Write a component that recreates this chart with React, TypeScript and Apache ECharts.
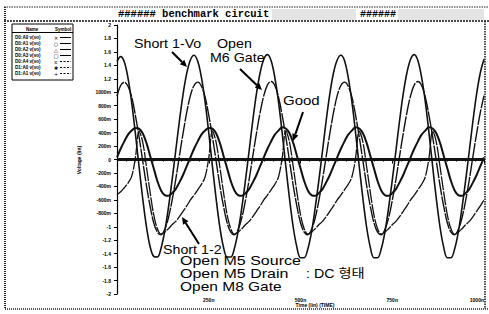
import React, { useEffect, useRef } from "react";
import * as echarts from "echarts";

// time grid (ns)
const TIME_NS = Array.from({ length: 101 }, (_, i) => i * 10);

// Short 1-Vo
const SHORT_1_VO = [
  1.46, 1.53, 1.45, 1.21, 0.85, 0.39, -0.10, -0.58, -0.99, -1.29, -1.44, -1.45, -1.32, -1.07, -0.72, -0.31, 0.13, 0.57, 0.97, 1.28,
  1.48, 1.55, 1.46, 1.22, 0.86, 0.40, -0.10, -0.58, -1.00, -1.30, -1.45, -1.45, -1.32, -1.07, -0.72, -0.31, 0.13, 0.58, 0.98, 1.29,
  1.49, 1.56, 1.47, 1.22, 0.86, 0.40, -0.10, -0.58, -1.00, -1.30, -1.46, -1.46, -1.33, -1.08, -0.72, -0.31, 0.13, 0.58, 0.98, 1.29,
  1.48, 1.55, 1.47, 1.22, 0.86, 0.40, -0.10, -0.58, -1.00, -1.30, -1.46, -1.46, -1.33, -1.08, -0.72, -0.31, 0.13, 0.58, 0.98, 1.29,
  1.49, 1.56, 1.47, 1.22, 0.86, 0.40, -0.10, -0.58, -1.00, -1.30, -1.46, -1.46, -1.33, -1.08, -0.72, -0.31, 0.13, 0.58, 0.98, 1.29,
  1.49,
];

// Open M6 Gate
const OPEN_M6_GATE = [
  0.94, 1.10, 1.15, 1.09, 0.93, 0.66, 0.34, -0.02, -0.38, -0.69, -0.94, -1.08, -1.12, -1.04, -0.87, -0.61, -0.30, 0.05, 0.39, 0.70,
  0.95, 1.10, 1.15, 1.09, 0.93, 0.66, 0.34, -0.02, -0.38, -0.69, -0.94, -1.08, -1.12, -1.04, -0.87, -0.61, -0.30, 0.05, 0.39, 0.70,
  0.95, 1.11, 1.16, 1.10, 0.93, 0.66, 0.34, -0.02, -0.38, -0.69, -0.94, -1.08, -1.12, -1.04, -0.87, -0.61, -0.30, 0.05, 0.39, 0.70,
  0.95, 1.10, 1.15, 1.09, 0.93, 0.66, 0.34, -0.02, -0.38, -0.69, -0.94, -1.08, -1.12, -1.04, -0.87, -0.61, -0.30, 0.05, 0.39, 0.70,
  0.95, 1.11, 1.16, 1.10, 0.93, 0.66, 0.34, -0.02, -0.38, -0.69, -0.94, -1.08, -1.12, -1.04, -0.87, -0.61, -0.30, 0.05, 0.39, 0.70,
  0.95,
];

// Good
const GOOD = [
  0.03, 0.16, 0.27, 0.37, 0.43, 0.47, 0.46, 0.39, 0.25, 0.06, -0.13, -0.32, -0.46, -0.53, -0.54, -0.50, -0.44, -0.34, -0.23, -0.10,
  0.03, 0.16, 0.27, 0.37, 0.43, 0.47, 0.46, 0.39, 0.25, 0.06, -0.13, -0.32, -0.46, -0.53, -0.54, -0.50, -0.44, -0.34, -0.23, -0.10,
  0.03, 0.16, 0.27, 0.37, 0.43, 0.48, 0.46, 0.39, 0.25, 0.06, -0.13, -0.32, -0.46, -0.53, -0.54, -0.50, -0.44, -0.34, -0.23, -0.10,
  0.03, 0.16, 0.27, 0.37, 0.43, 0.48, 0.46, 0.39, 0.25, 0.06, -0.13, -0.32, -0.46, -0.53, -0.54, -0.50, -0.44, -0.34, -0.23, -0.10,
  0.03, 0.16, 0.27, 0.37, 0.43, 0.48, 0.46, 0.39, 0.25, 0.06, -0.13, -0.32, -0.46, -0.53, -0.54, -0.50, -0.44, -0.34, -0.23, -0.10,
  0.03,
];

// Short 1-2
const SHORT_1_2 = [
  -0.52, -0.48, -0.42, -0.35, -0.25, 0.02, 0.42, 0.26, -0.10, -0.48, -0.82, -1.03, -1.11, -1.08, -1.03, -0.97, -0.92, -0.85, -0.77, -0.69,
  -0.60, -0.53, -0.45, -0.37, -0.26, 0.02, 0.42, 0.26, -0.10, -0.48, -0.82, -1.03, -1.11, -1.08, -1.03, -0.97, -0.92, -0.85, -0.77, -0.69,
  -0.60, -0.53, -0.45, -0.37, -0.26, 0.02, 0.42, 0.26, -0.10, -0.48, -0.82, -1.03, -1.11, -1.08, -1.03, -0.97, -0.92, -0.85, -0.77, -0.69,
  -0.60, -0.53, -0.45, -0.37, -0.26, 0.02, 0.42, 0.26, -0.10, -0.48, -0.82, -1.03, -1.11, -1.08, -1.03, -0.97, -0.92, -0.85, -0.77, -0.69,
  -0.60, -0.53, -0.45, -0.37, -0.26, 0.02, 0.42, 0.26, -0.10, -0.48, -0.82, -1.03, -1.11, -1.08, -1.03, -0.97, -0.92, -0.85, -0.77, -0.69,
  -0.60,
];

// DC (Open M5 Source / Open M5 Drain / Open M8 Gate)
const DC_TIMES = [0, 1000];
const DC_VALUES = [0, 0];

const LEGEND_NAMES = [
  "D0:A0 v(vo)",
  "D0:A1 v(vo)",
  "D0:A2 v(vo)",
  "D0:A3 v(vo)",
  "D0:A4 v(vo)",
  "D1:A0 v(vo)",
  "D1:A1 v(vo)",
];
const LEGEND_SYMBOLS = ["✕", "○", "△", "□", "⧖", "✱", "+"];

const TITLE_LEFT = "###### benchmark circuit";
const TITLE_RIGHT = "######";
const X_NAME = "Time (lin) (TIME)";
const Y_NAME = "Voltage (lin)";

const FONT = "'Liberation Sans', Arial, sans-serif";

function pairs(t: number[], v: number[]) {
  return t.map((x, i) => [x, v[i]]);
}

function arrow(x1: number, y1: number, x2: number, y2: number) {
  const dx = x2 - x1;
  const dy = y2 - y1;
  const L = Math.hypot(dx, dy);
  const ux = dx / L;
  const uy = dy / L;
  const hl = 7;
  const hw = 3.2;
  const bx = x2 - ux * hl;
  const by = y2 - uy * hl;
  return [
    { type: "line", z: 20, shape: { x1, y1, x2: bx, y2: by }, style: { stroke: "#000", lineWidth: 2 } },
    {
      type: "polygon",
      z: 20,
      shape: { points: [[x2, y2], [bx - uy * hw, by + ux * hw], [bx + uy * hw, by - ux * hw]] },
      style: { fill: "#000" },
    },
  ];
}

function note(text: string, x: number, y: number, sx = 1.14, extra: any = {}) {
  return {
    type: "text",
    x,
    y,
    scaleX: sx,
    z: 20,
    style: {
      text,
      fontSize: 12.5,
      fontFamily: FONT,
      fill: "#000",
      verticalAlign: "middle",
      align: "left",
      ...extra,
    },
  };
}

export default function App() {
  const ref = useRef<HTMLDivElement>(null);
  useEffect(() => {
    if (!ref.current) return;
    const chart = echarts.init(ref.current, null, { renderer: "svg" });

    const legendEls: any[] = [
      { type: "rect", shape: { x: 12, y: 24, width: 61, height: 56 }, style: { fill: "#fff", stroke: "#000", lineWidth: 1 } },
      { type: "text", x: 26, y: 29, style: { text: "Name", fontSize: 4.5, fontWeight: "bold", fontFamily: FONT, fill: "#000", verticalAlign: "middle" } },
      { type: "text", x: 55, y: 29, style: { text: "Symbol", fontSize: 4.5, fontWeight: "bold", fontFamily: FONT, fill: "#000", verticalAlign: "middle" } },
      { type: "line", shape: { x1: 12, y1: 32.5, x2: 73, y2: 32.5 }, style: { stroke: "#000", lineWidth: 1 } },
    ];
    LEGEND_NAMES.forEach((n, i) => {
      const y = 37.5 + i * 6;
      legendEls.push({ type: "text", x: 15, y, style: { text: n, fontSize: 4.6, fontWeight: "bold", fontFamily: FONT, fill: "#000", verticalAlign: "middle" } });
      legendEls.push({ type: "text", x: 56, y, style: { text: LEGEND_SYMBOLS[i], fontSize: 5, fontFamily: "'DejaVu Sans'", fill: "#000", verticalAlign: "middle", align: "center" } });
      legendEls.push({ type: "line", shape: { x1: 60, y1: y, x2: 71, y2: y }, style: { stroke: "#000", lineWidth: 1, lineDash: i > 3 ? [2, 1.5] : null } });
    });

    const frame: any[] = [
      { type: "rect", shape: { x: 272, y: 9, width: 84, height: 11 }, style: { fill: "#e4e4e4" } },
      { type: "rect", shape: { x: 398, y: 9, width: 86, height: 11 }, style: { fill: "#e4e4e4" } },
      { type: "line", shape: { x1: 4, y1: 7, x2: 489, y2: 7 }, style: { stroke: "#222", lineWidth: 1.2, lineDash: [1.5, 1] } },
      { type: "line", shape: { x1: 4, y1: 21, x2: 489, y2: 21 }, style: { stroke: "#111", lineWidth: 1.6, lineDash: [2, 1] } },
      { type: "line", shape: { x1: 5, y1: 7, x2: 5, y2: 309 }, style: { stroke: "#222", lineWidth: 2, lineDash: [1, 1] } },
      { type: "line", shape: { x1: 5, y1: 309, x2: 489, y2: 309 }, style: { stroke: "#222", lineWidth: 1.6, lineDash: [1, 1] } },
      { type: "line", shape: { x1: 485, y1: 21, x2: 485, y2: 309 }, style: { stroke: "#222", lineWidth: 1.6, lineDash: [1.5, 1] } },
      { type: "text", x: 118, y: 14, style: { text: TITLE_LEFT, fontSize: 10.5, fontWeight: "bold", fontFamily: "'Liberation Mono', monospace", fill: "#000", verticalAlign: "middle" } },
      { type: "text", x: 360, y: 14, style: { text: TITLE_RIGHT, fontSize: 10, fontWeight: "bold", fontFamily: "'Liberation Mono', monospace", fill: "#000", verticalAlign: "middle" } },
      { type: "text", x: 315, y: 305, style: { text: X_NAME, fontSize: 5, fontWeight: "bold", fontFamily: FONT, fill: "#000", align: "center", verticalAlign: "middle" } },
      { type: "text", x: 79, y: 160, rotation: Math.PI / 2, style: { text: Y_NAME, fontSize: 5, fontWeight: "bold", fontFamily: FONT, fill: "#000", align: "center", verticalAlign: "middle" } },
    ];

    const notes: any[] = [
      note("Short 1-Vo", 134, 44),
      note("Open", 217, 44),
      note("M6 Gate", 210, 58),
      note("Good", 283, 101, 1.2),
      note("Short 1-2", 163, 250),
      note("Open M5 Source", 180, 261, 1.28),
      note("Open M5 Drain", 180, 274, 1.28),
      note(": DC 형태", 306, 274, 1.14, { fontFamily: "'Liberation Sans', 'Noto Sans CJK KR', sans-serif" }),
      note("Open M8 Gate", 180, 287, 1.24),
      ...arrow(172, 52, 187, 67),
      ...arrow(240, 69, 262, 90),
      ...arrow(303, 112, 293, 141),
      ...arrow(199, 244, 182, 217),
    ];

    const line = (name: string, data: any, width: number, dash: any = "solid", z = 3) => ({
      name,
      type: "line",
      data,
      showSymbol: false,
      smooth: 0.35,
      z,
      lineStyle: { color: "#111", width, type: dash },
    });

    chart.setOption({
      animation: false,
      backgroundColor: "#fff",
      grid: { left: 117, right: 5, top: 25, bottom: 20 },
      xAxis: {
        type: "value",
        min: 0,
        max: 1000,
        interval: 250,
        axisLine: { lineStyle: { color: "#000", width: 1.2 } },
        axisTick: { show: true, length: 4, lineStyle: { color: "#000" } },
        minorTick: { show: true, splitNumber: 10, length: 2, lineStyle: { color: "#000" } },
        splitLine: { show: false },
        axisLabel: {
          formatter: (v: number) => (v === 0 ? "" : v + "n"),
          fontSize: 5,
          fontWeight: "bold",
          fontFamily: FONT,
          color: "#000",
          margin: 3,
          alignMaxLabel: "right",
        },
      },
      yAxis: {
        type: "value",
        min: -2,
        max: 2,
        interval: 0.2,
        axisLine: { show: true, lineStyle: { color: "#000", width: 1.2 } },
        axisTick: { show: true, length: 3, lineStyle: { color: "#000" } },
        splitLine: { show: false },
        axisLabel: {
          formatter: (v: number) => {
            const r = Math.round(v * 10) / 10;
            if (r === 0) return "0";
            if (r === 1) return "1000m";
            if (Math.abs(r) < 1) return Math.round(r * 1000) + "m";
            return String(r);
          },
          fontSize: 5,
          fontWeight: "bold",
          fontFamily: FONT,
          color: "#000",
          margin: 6,
        },
      },
      series: [
        line("Short 1-Vo", pairs(TIME_NS, SHORT_1_VO), 1.6),
        line("Open M6 Gate", pairs(TIME_NS, OPEN_M6_GATE), 1.4, [16, 1.2]),
        line("Good", pairs(TIME_NS, GOOD), 2),
        line("Short 1-2", pairs(TIME_NS, SHORT_1_2), 1.3, [14, 1.2]),
        line("Open M5 Source", pairs(DC_TIMES, DC_VALUES), 2.6, "solid", 4),
        line("Open M5 Drain", pairs(DC_TIMES, DC_VALUES), 2.6, "solid", 4),
        line("Open M8 Gate", pairs(DC_TIMES, DC_VALUES), 2.6, "solid", 4),
      ],
      graphic: [...frame, ...legendEls, ...notes],
    });
    return () => chart.dispose();
  }, []);
  return (
    <div
      ref={ref}
      style={{ position: "fixed", left: 0, top: 0, width: 489, height: 314, background: "#fff" }}
    />
  );
}
